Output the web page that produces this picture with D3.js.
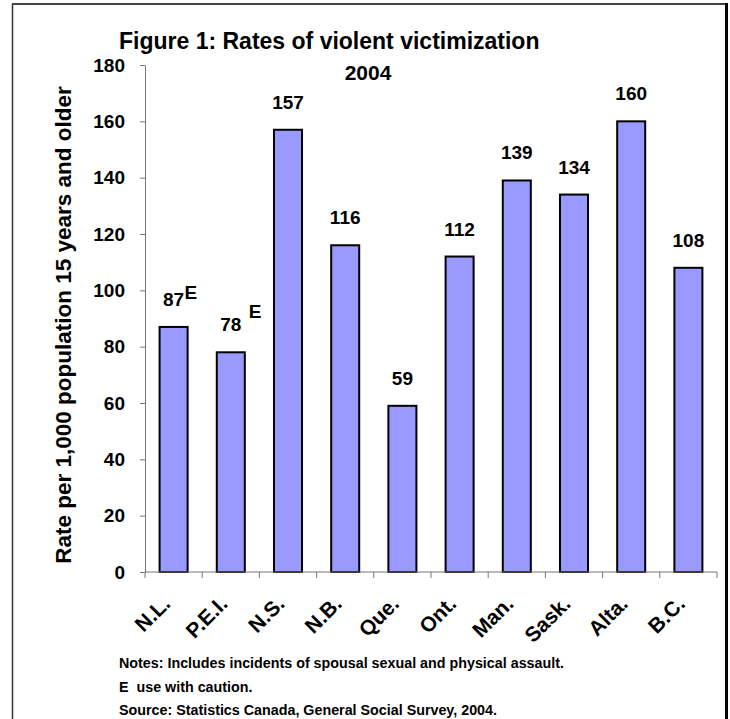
<!DOCTYPE html>
<html>
<head>
<meta charset="utf-8">
<script src="https://cdn.jsdelivr.net/npm/d3@7"></script>
<style>
  html, body { margin: 0; padding: 0; background: #fff; }
  svg { display: block; font-family: "Liberation Sans", Arial, sans-serif; font-weight: bold; }
</style>
</head>
<body>
<svg id="chart" width="730" height="719"></svg>
<script>
// Provinces (x categories) and their rates per 1,000 population
const provinces = ["N.L.", "P.E.I.", "N.S.", "N.B.", "Que.", "Ont.", "Man.", "Sask.", "Alta.", "B.C."];
const rates = [87, 78, 157, 116, 59, 112, 139, 134, 160, 108];
// Estimates flagged "use with caution"
const cautionFlags = [true, true, false, false, false, false, false, false, false, false];
const yTicks = [0, 20, 40, 60, 80, 100, 120, 140, 160, 180];

const titleText = "Figure 1: Rates of violent victimization";
const subtitleText = "2004";
const yAxisTitle = "Rate per 1,000 population 15 years and older";
const notes = [
  "Notes: Includes incidents of spousal sexual and physical assault.",
  "E  use with caution.",
  "Source: Statistics Canada, General Social Survey, 2004."
];

const data = provinces.map((p, i) => ({ name: p, value: rates[i], caution: cautionFlags[i] }));

const svg = d3.select("#chart");

// outer frame
svg.append("line").attr("x1", 12.5).attr("y1", 4).attr("x2", 12.5).attr("y2", 719)
  .attr("stroke", "#333").attr("stroke-width", 1.5);
svg.append("line").attr("x1", 12).attr("y1", 4).attr("x2", 727).attr("y2", 4)
  .attr("stroke", "#444").attr("stroke-width", 2);
svg.append("line").attr("x1", 726.5).attr("y1", 3).attr("x2", 726.5).attr("y2", 719)
  .attr("stroke", "#000").attr("stroke-width", 3);

const x = d3.scaleBand().domain(provinces).range([145, 717]).paddingInner(0.51).paddingOuter(0.255);
const y = d3.scaleLinear().domain([0, 180]).range([572, 65]);

// titles
svg.append("text").attr("x", 119).attr("y", 49).attr("font-size", 23).attr("fill", "#000").text(titleText);
svg.append("text").attr("x", 368).attr("y", 80).attr("text-anchor", "middle").attr("font-size", 21).attr("fill", "#000").text(subtitleText);

// y axis
const yAxis = svg.append("g").attr("transform", "translate(145,0)")
  .call(d3.axisLeft(y).tickValues(yTicks).tickSize(5).tickPadding(15).tickSizeOuter(0));
yAxis.select(".domain").attr("stroke", "#777").attr("stroke-width", 1);
yAxis.selectAll(".tick line").attr("stroke", "#777");
yAxis.selectAll(".tick text").attr("font-size", 19).attr("font-family", "Liberation Sans, Arial, sans-serif")
  .attr("font-weight", "bold").attr("fill", "#000");

svg.append("text")
  .attr("transform", "translate(71,325) rotate(-90)")
  .attr("text-anchor", "middle").attr("font-size", 22.5).attr("fill", "#000")
  .text(yAxisTitle);

// bars
svg.append("g").selectAll("rect").data(data).join("rect")
  .attr("x", d => x(d.name))
  .attr("y", d => y(d.value))
  .attr("width", x.bandwidth())
  .attr("height", d => y(0) - y(d.value))
  .attr("fill", "#9999FF")
  .attr("stroke", "#000")
  .attr("stroke-width", 2);

// x axis with ticks at band boundaries
const xAxisG = svg.append("g").attr("transform", "translate(0,572)");
xAxisG.append("line").attr("x1", 145).attr("x2", 717).attr("stroke", "#777").attr("stroke-width", 1);
const step = x.step();
const boundaries = d3.range(provinces.length + 1).map(i => x.range()[0] + i * step);
xAxisG.selectAll("line.tk").data(boundaries).join("line").attr("class", "tk")
  .attr("x1", d => d).attr("x2", d => d).attr("y1", 0).attr("y2", 6)
  .attr("stroke", "#777");

// rotated category labels
svg.append("g").selectAll("text").data(data).join("text")
  .attr("transform", d => `translate(${x(d.name) + x.bandwidth() / 2 - 2},605) rotate(-45)`)
  .attr("text-anchor", "end").attr("font-size", 21).attr("fill", "#000")
  .text(d => d.name);

// value labels
svg.append("g").selectAll("text").data(data).join("text")
  .attr("x", d => x(d.name) + x.bandwidth() / 2)
  .attr("y", d => y(d.value) - 21)
  .attr("text-anchor", "middle").attr("font-size", 19).attr("fill", "#000")
  .text(d => d.value);

// "E" caution markers
svg.append("text").attr("x", x("N.L.") + x.bandwidth() / 2 + 11).attr("y", y(87) - 28)
  .attr("font-size", 19).attr("fill", "#000").text("E");
svg.append("text").attr("x", x("P.E.I.") + x.bandwidth() / 2 + 18).attr("y", y(78) - 34)
  .attr("font-size", 19).attr("fill", "#000").text("E");

// notes
svg.append("g").selectAll("text").data(notes).join("text")
  .attr("x", 119).attr("y", (d, i) => 668 + i * 23.5)
  .attr("font-size", 14.3).attr("fill", "#000")
  .style("white-space", "pre")
  .text(d => d);
</script>
</body>
</html>
